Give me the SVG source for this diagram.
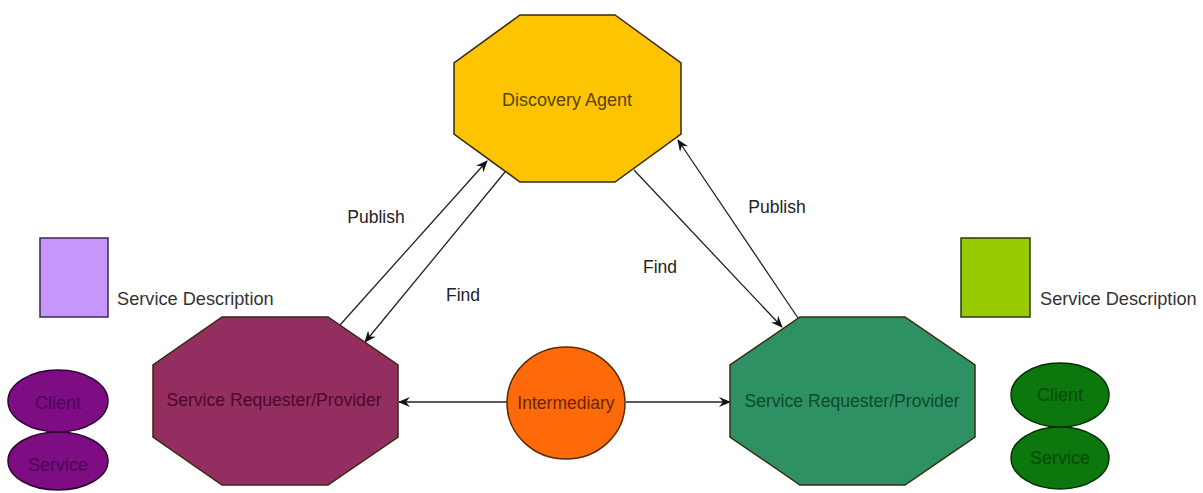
<svg xmlns="http://www.w3.org/2000/svg" width="1203" height="493" viewBox="0 0 1203 493">
<defs>
<style>
text{font-family:"Liberation Sans",Arial,sans-serif;dominant-baseline:central;text-anchor:middle}
.oct{stroke:#3a2a10;stroke-width:1.5}
.lbl{font-size:17.5px;fill:#222}
.desc{font-size:18.2px;fill:#333;text-anchor:start}
.con{stroke:#222;stroke-width:1.3;fill:none;marker-end:url(#ah)}
.small{font-size:18px}
</style>
<marker id="ah" viewBox="0 0 12 10" refX="11" refY="5" markerWidth="12" markerHeight="10" markerUnits="userSpaceOnUse" orient="auto">
<path d="M0,0 L12,5 L0,10 L4,5 Z" fill="#111"/>
</marker>
</defs>
<rect width="1203" height="493" fill="#fff"/>

<g id="connectors">
<line class="con" x1="340" y1="325" x2="487" y2="161"/>
<line class="con" x1="505" y1="172" x2="365" y2="342"/>
<line class="con" x1="634" y1="170" x2="782" y2="327"/>
<line class="con" x1="798" y1="318" x2="678" y2="140"/>
<line class="con" x1="507" y1="402" x2="399" y2="402"/>
<line class="con" x1="626" y1="402" x2="730" y2="402"/>
<text class="lbl" x="376" y="217">Publish</text>
<text class="lbl" x="463" y="295">Find</text>
<text class="lbl" x="660" y="267">Find</text>
<text class="lbl" x="777" y="207">Publish</text>
</g>

<g id="discovery-agent">
<polygon class="oct" fill="#fdc501" points="520,15 615,15 681,63 681,134 615,182 520,182 454,134 454,63"/>
<text x="567" y="100" font-size="18" fill="#5a4200">Discovery Agent</text>
</g>

<g id="requester-left">
<polygon class="oct" fill="#952e60" stroke="#3a1020" points="222,317 328,317 398,365 398,437 328,485 222,485 153,437 153,365"/>
<text x="274" y="400" font-size="17.6" fill="#4a0a28">Service Requester/Provider</text>
</g>

<g id="requester-right">
<polygon class="oct" fill="#2e9163" stroke="#163a26" points="800,317 905,317 975,365 975,437 905,485 800,485 730,437 730,365"/>
<text x="852" y="401" font-size="17.6" fill="#0f4a2a">Service Requester/Provider</text>
</g>

<g id="intermediary">
<ellipse cx="566" cy="403" rx="59" ry="56" fill="#fe6a0a" stroke="#5a2a00" stroke-width="1.5"/>
<text x="566" y="403" font-size="17.5" fill="#6a2500">Intermediary</text>
</g>

<g id="desc-left">
<rect x="40" y="238" width="68" height="79" fill="#c596fb" stroke="#3a2a4a" stroke-width="1.5"/>
<text class="desc" x="117" y="299">Service Description</text>
</g>

<g id="desc-right">
<rect x="961" y="238" width="69" height="79" fill="#99cc00" stroke="#2a3a10" stroke-width="1.5"/>
<text class="desc" x="1040" y="299">Service Description</text>
</g>

<g id="client-left">
<ellipse cx="58" cy="401" rx="50" ry="31" fill="#7e0c82" stroke="#2a0530" stroke-width="1.5"/>
<text class="small" x="58" y="403" fill="#4a0652">Client</text>
</g>
<g id="service-left">
<ellipse cx="58" cy="461" rx="50" ry="29" fill="#7e0c82" stroke="#2a0530" stroke-width="1.5"/>
<text class="small" x="58" y="465" fill="#4a0652">Service</text>
</g>

<g id="client-right">
<ellipse cx="1060" cy="395" rx="49" ry="32" fill="#0c770c" stroke="#053005" stroke-width="1.5"/>
<text class="small" x="1060" y="395" fill="#094a09">Client</text>
</g>
<g id="service-right">
<ellipse cx="1060" cy="458" rx="49" ry="31" fill="#0c770c" stroke="#053005" stroke-width="1.5"/>
<text class="small" x="1060" y="458" fill="#094a09">Service</text>
</g>
</svg>
